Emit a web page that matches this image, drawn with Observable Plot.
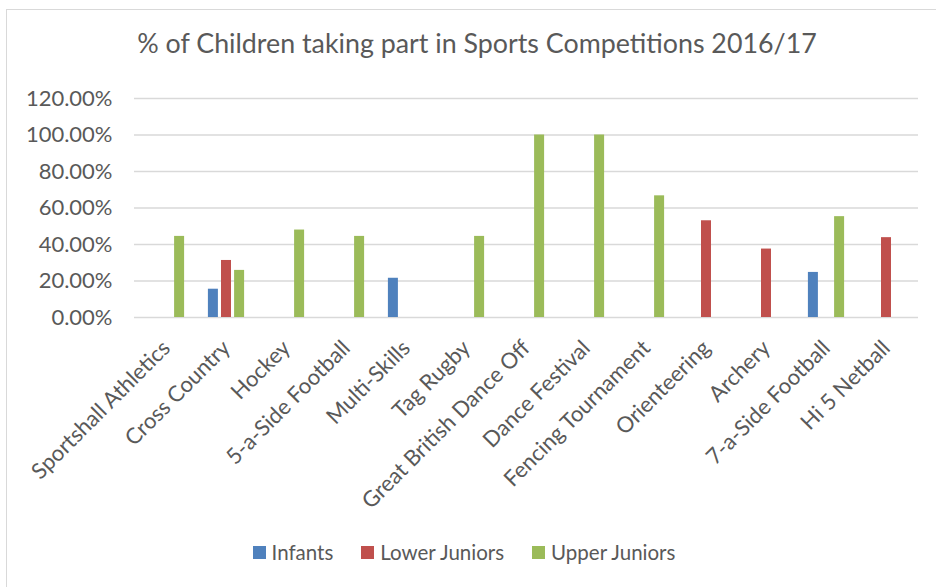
<!DOCTYPE html>
<html>
<head>
<meta charset="utf-8">
<script src="https://cdn.jsdelivr.net/npm/d3@7"></script>
<script src="https://cdn.jsdelivr.net/npm/@observablehq/plot@0.6"></script>
<style>
  html, body { margin: 0; padding: 0; background: #fff; }
  #frame { position: absolute; left: 6px; top: 9px; width: 960px; height: 620px; border: 1.5px solid #d9d9d9; box-sizing: border-box; }
  #wrap { position: absolute; left: 0; top: 0; width: 936px; }
  #title { height: 85px; box-sizing: border-box; padding-top: 28px; text-align: center; font-family: Lato, sans-serif; font-size: 26.8px; line-height: 30px; color: #595959; padding-left: 18px; }
  #legend { display: flex; justify-content: center; gap: 28px; font-family: Lato, sans-serif; font-size: 20.5px; color: #595959; margin-top: 23px; padding-right: 8px; }
  #legend span.item { display: flex; align-items: center; }
  #legend span.sw { display: inline-block; width: 13px; height: 13px; margin-right: 6px; }
</style>
</head>
<body>
<div id="frame"></div>
<div id="wrap">
  <div id="title">% of Children taking part in Sports Competitions 2016/17</div>
  <div id="chart"></div>
  <div id="legend"></div>
</div>
<script>
const categories = ["Sportshall Athletics", "Cross Country", "Hockey", "5-a-Side Football", "Multi-Skills", "Tag Rugby", "Great British Dance Off", "Dance Festival", "Fencing Tournament", "Orienteering", "Archery", "7-a-Side Football", "Hi 5 Netball"];
const series = ["Infants", "Lower Juniors", "Upper Juniors"];
const infants      = [null, 0.155, null, null, 0.215, null, null, null, null, null, null, 0.247, null];
const lowerJuniors = [null, 0.3125, null, null, null, null, null, null, null, 0.53, 0.375, null, 0.4375];
const upperJuniors = [0.4444, 0.2581, 0.4792, 0.4444, null, 0.4444, 1.0, 1.0, 0.6667, null, null, 0.5526, null];
const colors = ["#4f81bd", "#c0504d", "#9bbb59"];
const yTicks = [0, 0.2, 0.4, 0.6, 0.8, 1.0, 1.2];

const seriesValues = [infants, lowerJuniors, upperJuniors];
const data = [];
series.forEach((s, si) => {
  seriesValues[si].forEach((v, ci) => {
    if (v != null) data.push({category: categories[ci], series: s, value: v});
  });
});

const groupStep = 13.1;
const chart = Plot.plot({
  width: 936,
  height: 432,
  marginLeft: 134,
  marginRight: 18,
  marginTop: 13,
  marginBottom: 200,
  style: {fontFamily: "Lato, sans-serif", fontSize: "22px", color: "#595959", background: "transparent", overflow: "visible"},
  x: {domain: categories, paddingInner: 0.834, paddingOuter: 0.417, tickRotate: -45, tickSize: 0, tickPadding: 27, label: null},
  y: {domain: [0, 1.2], ticks: yTicks, tickFormat: d3.format(".2%"), tickSize: 0, tickPadding: 22, label: null},
  color: {domain: series, range: colors},
  marks: [
    Plot.ruleY(yTicks, {stroke: "#d9d9d9", strokeWidth: 1.5}),
    ...series.map((s, i) => Plot.barY(data.filter(d => d.series === s), {
      x: "category", y: "value", fill: "series", dx: (i - 1) * groupStep
    }))
  ]
});
document.getElementById("chart").appendChild(chart);

const legend = document.getElementById("legend");
series.forEach((s, i) => {
  const item = document.createElement("span");
  item.className = "item";
  const sw = document.createElement("span");
  sw.className = "sw";
  sw.style.background = colors[i];
  item.appendChild(sw);
  item.appendChild(document.createTextNode(s));
  legend.appendChild(item);
});
</script>
</body>
</html>
